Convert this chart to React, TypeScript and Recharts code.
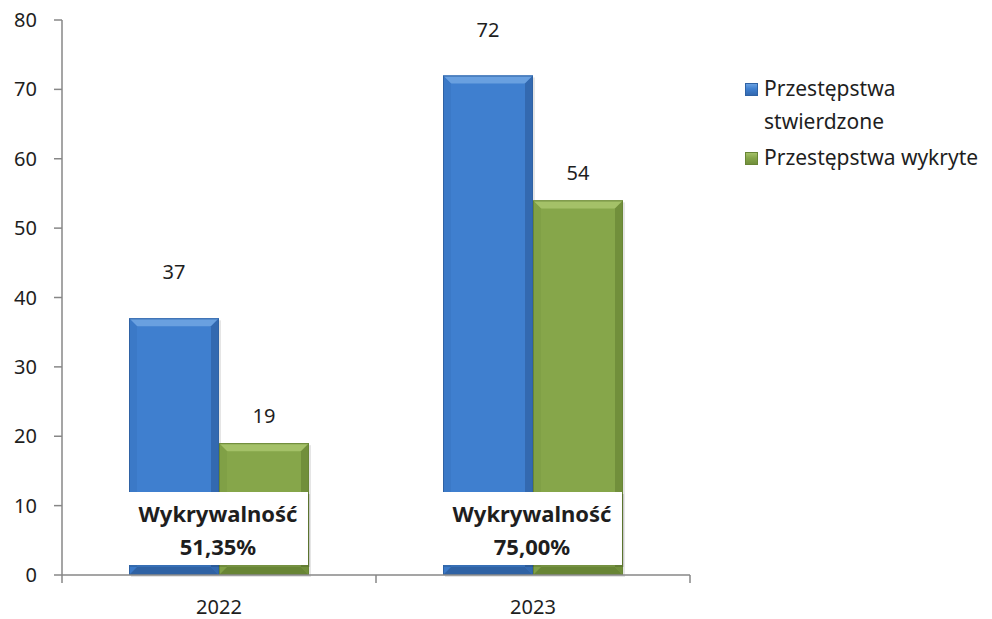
import { BarChart, Bar, XAxis, YAxis, Legend, LabelList } from 'recharts';

const years = ['2022', '2023'];
const stwierdzone = [37, 72];
const wykryte = [19, 54];
const yTicks = [0, 10, 20, 30, 40, 50, 60, 70, 80];

const data = years.map((year, i) => ({
  year,
  stwierdzone: stwierdzone[i],
  wykryte: wykryte[i],
  rate: ((wykryte[i] / stwierdzone[i]) * 100).toFixed(2).replace('.', ',') + '%',
}));

const font = "'Noto Sans', 'Open Sans', sans-serif";
const ink = '#1e1e1e';
const axisGrey = '#878787';

const palette: Record<string, { body: string; top: string; left: string; right: string; bottom: string; edge: string }> = {
  blue: { body: '#3f7fcf', top: '#69a0e0', left: '#3b79c7', right: '#3369b0', bottom: '#2f62a4', edge: '#2f62a4' },
  green: { body: '#86a64a', top: '#a4c168', left: '#80a046', right: '#718f3b', bottom: '#688535', edge: '#688535' },
};

// bar with an Excel-ish bevel
const BevelBar = (props: any) => {
  const { x, y, width: w, height: h, tone } = props;
  if (!w || !h) return null;
  const c = palette[tone];
  const b = Math.min(8, w / 4, h / 3);
  return (
    <g>
      <rect x={x + 2} y={y + 2} width={w} height={h} fill="rgba(0,0,0,0.10)" />
      <rect x={x} y={y} width={w} height={h} fill={c.body} />
      <polygon points={`${x},${y} ${x + w},${y} ${x + w - b},${y + b} ${x + b},${y + b}`} fill={c.top} />
      <polygon points={`${x},${y} ${x + b},${y + b} ${x + b},${y + h - b} ${x},${y + h}`} fill={c.left} />
      <polygon points={`${x + w},${y} ${x + w - b},${y + b} ${x + w - b},${y + h - b} ${x + w},${y + h}`} fill={c.right} />
      <polygon points={`${x},${y + h} ${x + b},${y + h - b} ${x + w - b},${y + h - b} ${x + w},${y + h}`} fill={c.bottom} />
      <rect x={x + 0.5} y={y + 0.5} width={w - 1} height={h - 1} fill="none" stroke={c.edge} strokeWidth={1} />
    </g>
  );
};

const RateBox = (props: any) => {
  const { x, y, width, height, value } = props;
  const left = x - width - 1;
  const right = x + width - 1;
  const bottom = y + height - 10;
  const top = bottom - 73;
  const cx = (left + right) / 2;
  return (
    <g>
      <rect x={left + 2} y={top + 2} width={right - left} height={bottom - top} fill="rgba(0,0,0,0.12)" />
      <rect x={left} y={top} width={right - left} height={bottom - top} fill="#ffffff" />
      <text x={cx} y={top + 30} textAnchor="middle" fontFamily={font} fontSize={22} fontWeight="bold" fill={ink}>
        Wykrywalność
      </text>
      <text x={cx} y={top + 63} textAnchor="middle" fontFamily={font} fontSize={22} fontWeight="bold" fill={ink}>
        {value}
      </text>
    </g>
  );
};

const YearTick = (props: any) => {
  const { x, y, payload, width, visibleTicksCount, index } = props;
  const half = payload.offset ?? width / visibleTicksCount / 2;
  const last = index === visibleTicksCount - 1;
  return (
    <g>
      <line x1={x - half} x2={x - half} y1={y} y2={y + 8} stroke={axisGrey} strokeWidth={1.5} />
      {last && <line x1={x + half} x2={x + half} y1={y} y2={y + 8} stroke={axisGrey} strokeWidth={1.5} />}
      <text x={x} y={y + 39} textAnchor="middle" fontFamily={font} fontSize={20} fill={ink}>
        {payload.value}
      </text>
    </g>
  );
};

const LegendBox = (props: any) => {
  const { payload } = props;
  return (
    <div style={{ fontFamily: font, fontSize: 21, color: ink, lineHeight: '33px' }}>
      {(payload || []).map((item: any) => {
        const c = palette[item.dataKey === 'stwierdzone' ? 'blue' : 'green'];
        return (
          <div key={item.value} style={{ display: 'flex', alignItems: 'flex-start', marginBottom: 3 }}>
            <span
              style={{
                flex: '0 0 auto',
                width: 11,
                height: 11,
                marginTop: 11,
                marginRight: 6,
                background: `linear-gradient(${c.top}, ${c.body} 45%, ${c.right})`,
                border: `1px solid ${c.edge}`,
              }}
            />
            <span>{item.value}</span>
          </div>
        );
      })}
    </div>
  );
};

export default function App() {
  return (
    <div style={{ position: 'absolute', left: 0, top: 0, width: 992, height: 619, background: '#fff' }}>
      <BarChart
        width={992}
        height={619}
        data={data}
        margin={{ top: 20, right: 55, left: 0, bottom: 0 }}
        barGap={0}
      >
        <XAxis
          dataKey="year"
          height={44}
          tickLine={false}
          tickSize={0}
          tickMargin={0}
          axisLine={{ stroke: axisGrey, strokeWidth: 1.5 }}
          tick={<YearTick />}
        />
        <YAxis
          width={62}
          domain={[0, 80]}
          ticks={yTicks}
          tickSize={8}
          tickMargin={17}
          axisLine={{ stroke: axisGrey, strokeWidth: 1.5 }}
          tickLine={{ stroke: axisGrey, strokeWidth: 1.5 }}
          tick={{ fontFamily: font, fontSize: 20, fill: ink }}
        />
        <Legend
          layout="vertical"
          align="right"
          verticalAlign="top"
          content={<LegendBox />}
          wrapperStyle={{ left: 745, top: 72, right: 'auto', width: 247 }}
        />
        <Bar
          dataKey="stwierdzone"
          name="Przestępstwa stwierdzone"
          fill="#3f7fcf"
          barSize={90}
          isAnimationActive={false}
          shape={<BevelBar tone="blue" />}
        >
          <LabelList dataKey="stwierdzone" position="top" offset={39} fill={ink} fontFamily={font} fontSize={20} />
        </Bar>
        <Bar
          dataKey="wykryte"
          name="Przestępstwa wykryte"
          fill="#86a64a"
          barSize={90}
          isAnimationActive={false}
          shape={<BevelBar tone="green" />}
        >
          <LabelList dataKey="wykryte" position="top" offset={20} fill={ink} fontFamily={font} fontSize={20} />
          <LabelList dataKey="rate" content={<RateBox />} />
        </Bar>
      </BarChart>
    </div>
  );
}
